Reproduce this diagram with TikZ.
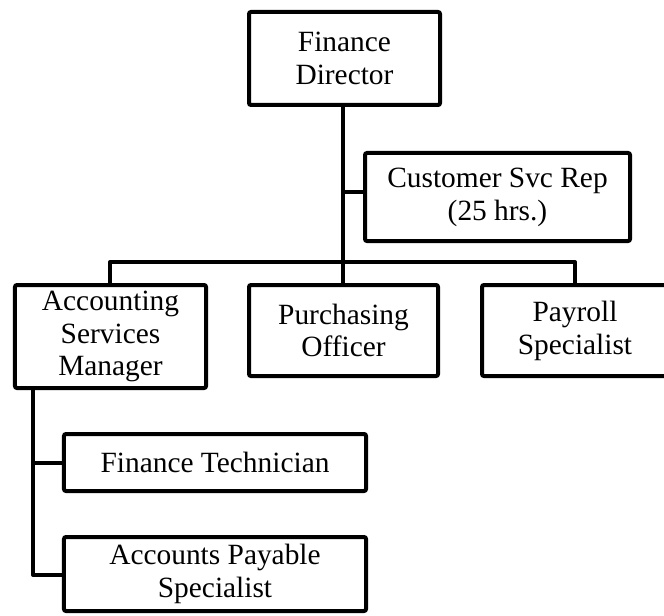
\documentclass[tikz,border=0pt]{standalone}
\usepackage{fontspec}
\setmainfont{Liberation Serif}
\begin{document}
\begin{tikzpicture}[x=1bp,y=-1bp,
  every node/.style={font=\fontsize{29.5}{33}\selectfont},
  orgbox/.style={draw, line width=4bp, rounded corners=2bp, align=center,
    inner sep=0pt, fill=white},
  link/.style={line width=4bp, line join=round, line cap=butt}]
\useasboundingbox (0,0) rectangle (664,616);

% boxes
\node[orgbox, minimum width=191bp, minimum height=93bp] (fd) at (344.5,58.5) {Finance\\Director};
\node[orgbox, minimum width=265bp, minimum height=88bp] (csr) at (497.5,197) {Customer Svc Rep\\(25 hrs.)};
\node[orgbox, minimum width=191bp, minimum height=103bp] (asm) at (110.5,336.5) {Accounting\\Services\\Manager};
\node[orgbox, minimum width=189bp, minimum height=91bp] (po) at (343.5,330.5) {Purchasing\\Officer};
\node[orgbox, minimum width=186bp, minimum height=91bp] (ps) at (575,330.5) {Payroll\\Specialist};
\node[orgbox, minimum width=302bp, minimum height=57bp] (ft) at (215,462.5) {Finance Technician};
\node[orgbox, minimum width=302bp, minimum height=74bp] (ap) at (215,574) {Accounts Payable\\Specialist};

% junction points
\coordinate (bus) at (343,262);
\coordinate (csrj) at (343,192);
\coordinate (busL) at (110,262);
\coordinate (busR) at (575,262);
\coordinate (asmj) at (33,388);
\coordinate (ftj) at (33,462.5);
\coordinate (apj) at (33,575);

% connectors
\draw[link] (fd.south -| bus) -- (po.north -| bus);
\draw[link] (csrj) -- (csr.west |- csrj);
\draw[link] (asm.north -| busL) -- (busL) -- (busR) -- (ps.north -| busR);
\draw[link] (asmj) -- (apj) -- (ap.west |- apj);
\draw[link] (ftj) -- (ft.west |- ftj);
\end{tikzpicture}
\end{document}
